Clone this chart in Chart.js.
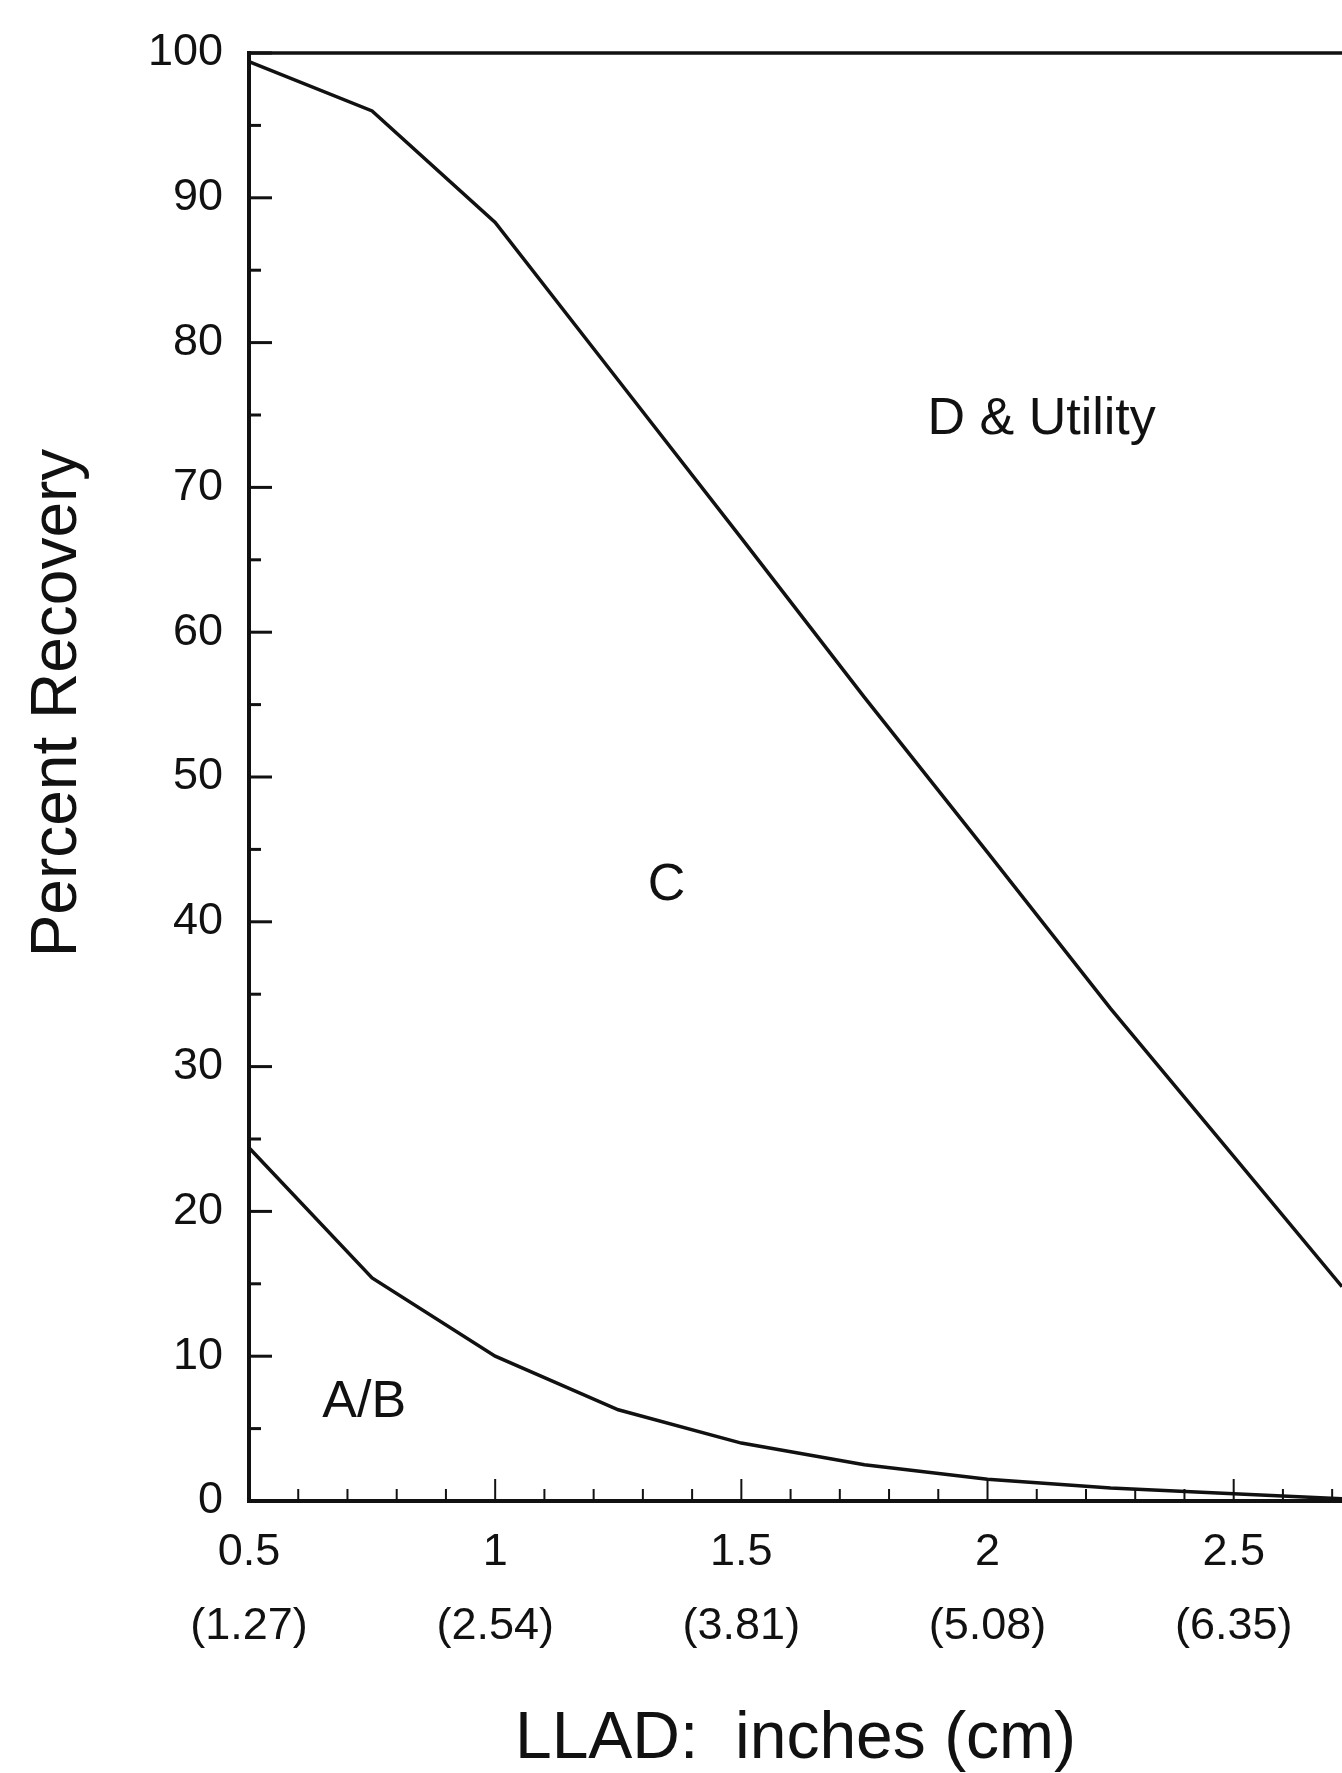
<!DOCTYPE html>
<html>
<head>
<meta charset="utf-8">
<script src="https://cdn.jsdelivr.net/npm/chart.js@4.4.1/dist/chart.umd.min.js"></script>
<style>
  html, body { margin: 0; padding: 0; background: #fff; }
  #wrap { width: 1342px; height: 1773px; }
</style>
</head>
<body>
<div id="wrap"><canvas id="myChart" width="1342" height="1773"></canvas></div>
<script>
// LLAD in inches, and cumulative percent recovery
const llad = [0.5, 0.75, 1, 1.25, 1.5, 1.75, 2, 2.25, 2.5, 2.72];
const gradeAB = [24.4, 15.4, 10.0, 6.3, 4.0, 2.5, 1.5, 0.9, 0.5, 0.15];
const gradeABC = [99.4, 96.0, 88.3, 77.4, 66.5, 55.5, 44.8, 34.0, 23.8, 14.8];
const allGrades = [100, 100, 100, 100, 100, 100, 100, 100, 100, 100];

// axis ticks
const inchTicks = [0.5, 1, 1.5, 2, 2.5];
const cmTicks = ["(1.27)", "(2.54)", "(3.81)", "(5.08)", "(6.35)"];
const inchMinor = [0.6, 0.7, 0.8, 0.9, 1.1, 1.2, 1.3, 1.4, 1.6, 1.7, 1.8, 1.9, 2.1, 2.2, 2.3, 2.4, 2.6, 2.7];
const pctTicks = [0, 10, 20, 30, 40, 50, 60, 70, 80, 90, 100];
const pctMinor = [5, 15, 25, 35, 45, 55, 65, 75, 85, 95];

// region names and where they sit (inches, percent)
const regionNames = ["A/B", "C", "D & Utility"];
const regionX = [0.734, 1.348, 2.11];
const regionY = [5.8, 41.5, 73.7];

const ink = "#111";
const fontName = "'Liberation Sans', Arial, sans-serif";

const toPoints = (ys) => llad.map((x, i) => ({ x: x, y: ys[i] }));

const lineStyle = {
  borderColor: ink,
  borderWidth: 3.5,
  pointRadius: 0,
  tension: 0,
  fill: false,
  clip: 6,
};

// ticks point into the plot, so they are drawn here from the scales
const inwardTicks = {
  id: "inwardTicks",
  afterDraw(chart) {
    const { ctx, chartArea, scales } = chart;
    const x = scales.x;
    const y = scales.y;
    const seg = (x1, y1, x2, y2) => {
      ctx.beginPath();
      ctx.moveTo(x1, y1);
      ctx.lineTo(x2, y2);
      ctx.stroke();
    };
    ctx.save();
    ctx.strokeStyle = ink;
    ctx.lineWidth = 3;
    pctTicks.forEach((v) => {
      const py = y.getPixelForValue(v);
      seg(chartArea.left, py, chartArea.left + 23, py);
    });
    pctMinor.forEach((v) => {
      const py = y.getPixelForValue(v);
      seg(chartArea.left, py, chartArea.left + 12, py);
    });
    ctx.lineWidth = 2;
    inchTicks.forEach((v) => {
      const px = x.getPixelForValue(v);
      seg(px, chartArea.bottom, px, chartArea.bottom - 22);
    });
    inchMinor.forEach((v) => {
      const px = x.getPixelForValue(v);
      seg(px, chartArea.bottom, px, chartArea.bottom - 12);
    });

    ctx.fillStyle = ink;
    ctx.font = "52px " + fontName;
    ctx.textAlign = "center";
    ctx.textBaseline = "alphabetic";
    regionNames.forEach((name, i) => {
      ctx.fillText(name, x.getPixelForValue(regionX[i]), y.getPixelForValue(regionY[i]));
    });

    ctx.translate(58, 703);
    ctx.rotate(-Math.PI / 2);
    ctx.font = "64px " + fontName;
    ctx.textBaseline = "middle";
    ctx.fillText("Percent Recovery", 0, 0);
    ctx.restore();
  },
};

let myChart = document.getElementById("myChart").getContext("2d");

let recoveryChart = new Chart(myChart, {
  type: "line",
  data: {
    datasets: [
      { label: "A/B", data: toPoints(gradeAB), ...lineStyle },
      { label: "C", data: toPoints(gradeABC), ...lineStyle },
      { label: "D & Utility", data: toPoints(allGrades), ...lineStyle },
    ],
  },
  options: {
    responsive: false,
    animation: false,
    layout: { padding: { top: 51, left: 0, right: 0, bottom: 0 } },
    plugins: {
      legend: { display: false },
      tooltip: { enabled: false },
    },
    scales: {
      x: {
        type: "linear",
        min: 0.5,
        max: 2.72,
        afterBuildTicks: (scale) => {
          scale.ticks = inchTicks.map((v) => ({ value: v }));
        },
        afterFit: (scale) => {
          scale.height = 272;
        },
        grid: { display: false, drawTicks: false },
        border: { display: true, color: ink, width: 4 },
        ticks: {
          color: ink,
          padding: 15,
          maxRotation: 0,
          autoSkip: false,
          font: { family: fontName, size: 45, lineHeight: 1.64 },
          callback: (value) => {
            const i = inchTicks.indexOf(value);
            return [String(value), cmTicks[i]];
          },
        },
        title: {
          display: true,
          text: "LLAD:  inches (cm)",
          color: ink,
          padding: { top: 0, bottom: 0 },
          font: { family: fontName, size: 66, lineHeight: 1 },
        },
      },
      y: {
        type: "linear",
        min: 0,
        max: 100,
        afterBuildTicks: (scale) => {
          scale.ticks = pctTicks.map((v) => ({ value: v }));
        },
        afterFit: (scale) => {
          scale.width = 249;
        },
        grid: { display: false, drawTicks: false },
        border: { display: true, color: ink, width: 4 },
        ticks: {
          color: ink,
          padding: 26,
          font: { family: fontName, size: 45 },
        },
      },
    },
  },
  plugins: [inwardTicks],
});
</script>
</body>
</html>
